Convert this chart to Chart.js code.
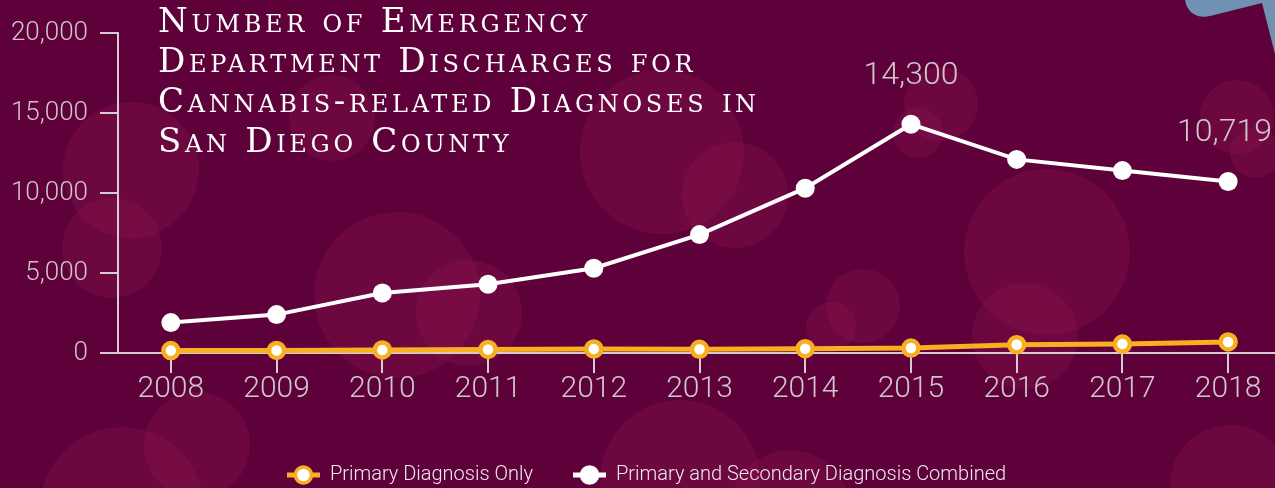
<!DOCTYPE html>
<html lang="en">
<head>
<meta charset="UTF-8">
<title>Emergency Department Discharges - Cannabis</title>
<script src="https://cdn.jsdelivr.net/npm/chart.js"></script>
<style>
  html, body { margin: 0; padding: 0; overflow: hidden; background: #5e003a; }
  #wrap { position: relative; width: 1293px; height: 488px; }
  .bokeh { position: absolute; border-radius: 50%; background: rgba(160, 33, 92, 0.21); }
  #star { position: absolute; left: 0; top: 0; }
  #chart { position: absolute; left: 0; top: 0; }
  #title {
    position: absolute; left: 158px; top: 0px;
    color: #fff; font-family: "DejaVu Serif", serif; font-size: 34px;
    line-height: 40px; font-variant: small-caps; letter-spacing: 3.7px; white-space: nowrap;
  }
</style>
</head>
<body>
<div id="wrap">
  <svg id="star" width="1293" height="488"><path d="M1185,0 C1187,12 1196,19 1210,16 L1262,3 L1277,62 L1293,62 L1293,0 Z" fill="#7091b1"/></svg>
  <!-- canvas is a little wider than the window so the plot runs to the right edge -->
  <canvas id="chart" width="1293" height="488"></canvas>
  <div id="title">Number of Emergency<br>Department Discharges for<br>Cannabis-related Diagnoses in<br>San Diego County</div>
</div>
<script>
  // data
  const years = ['2008', '2009', '2010', '2011', '2012', '2013', '2014', '2015', '2016', '2017', '2018'];
  const primaryOnly = [150, 160, 190, 220, 250, 230, 270, 310, 520, 560, 690];
  const combined = [1900, 2400, 3750, 4300, 5300, 7400, 10300, 14300, 12100, 11400, 10719];
  const calloutYears = ['2015', '2018'];
  const seriesNames = ['Primary Diagnosis Only', 'Primary and Secondary Diagnosis Combined'];

  const orange = '#f8b020';
  const axisGrey = '#d4ccd0';
  const labelGrey = '#cfc6cb';

  // background bubbles (decoration only)
  const bubbles = [
    [131, 170, 68], [112, 248, 50], [332, 118, 43], [397, 295, 83], [469, 313, 53],
    [662, 152, 82], [735, 195, 53], [1047, 252, 83], [1025, 336, 53], [863, 306, 37],
    [831, 327, 25], [941, 104, 37], [918, 133, 25], [1237, 117, 37], [1255, 153, 25],
    [197, 445, 53], [122, 509, 82], [680, 480, 80], [790, 510, 60], [1230, 485, 60]
  ];
  const wrap = document.getElementById('wrap');
  bubbles.forEach(([cx, cy, r]) => {
    const d = document.createElement('div');
    d.className = 'bokeh';
    d.style.left = (cx - r) + 'px';
    d.style.top = (cy - r) + 'px';
    d.style.width = d.style.height = (2 * r) + 'px';
    wrap.insertBefore(d, wrap.firstChild);
  });

  // legend markers: line with a dot on it
  function marker(lineColor, fill, stroke) {
    const c = document.createElement('canvas');
    c.width = 33; c.height = 22;
    const g = c.getContext('2d');
    g.strokeStyle = lineColor; g.lineWidth = 5;
    g.beginPath(); g.moveTo(0, 11); g.lineTo(33, 11); g.stroke();
    g.beginPath(); g.arc(16.5, 11, 8, 0, Math.PI * 2);
    g.fillStyle = fill; g.fill();
    g.lineWidth = 3.5; g.strokeStyle = stroke; g.stroke();
    return c;
  }
  const markers = [marker(orange, '#fff', orange), marker('#fff', '#fff', '#fff')];

  // value callouts above selected points (kept inside the visible window)
  const callouts = {
    id: 'callouts',
    afterDatasetsDraw(chart) {
      const { ctx, scales: { x, y } } = chart;
      ctx.save();
      ctx.font = '300 32px Roboto';
      ctx.fillStyle = labelGrey;
      ctx.textAlign = 'center';
      ctx.textBaseline = 'middle';
      calloutYears.forEach(yr => {
        const i = years.indexOf(yr);
        const v = combined[i];
        const txt = v.toLocaleString('en-US');
        const w = ctx.measureText(txt).width;
        const px = Math.min(x.getPixelForValue(i), window.innerWidth - 3 - w / 2);
        ctx.fillText(txt, px, y.getPixelForValue(v) - 48);
      });
      ctx.restore();
    }
  };

  new Chart(document.getElementById('chart'), {
    type: 'line',
    data: {
      labels: years,
      datasets: [{
        label: seriesNames[0],
        data: primaryOnly,
        borderColor: orange,
        borderWidth: 5,
        pointRadius: 7.5,
        pointBackgroundColor: '#fff',
        pointBorderColor: orange,
        pointBorderWidth: 4.5,
        clip: false
      }, {
        label: seriesNames[1],
        data: combined,
        borderColor: '#fff',
        borderWidth: 4,
        pointRadius: 9.5,
        pointBackgroundColor: '#fff',
        pointBorderWidth: 0,
        clip: false
      }]
    },
    options: {
      responsive: false,
      animation: false,
      events: [],
      layout: { padding: { top: 33, left: 0, right: 0, bottom: 0 } },
      scales: {
        x: {
          offset: true,
          grid: { offset: false, drawOnChartArea: false, color: axisGrey, lineWidth: 2, tickLength: 20 },
          border: { color: axisGrey, width: 2 },
          ticks: { color: labelGrey, padding: 1, font: { family: 'Roboto', size: 30, weight: '300', lineHeight: 1 } },
          afterFit(scale) {
            scale.height = 72;
            scale.paddingLeft = 0;
            scale.paddingRight = 0;
          }
        },
        y: {
          min: 0, max: 20000,
          grid: { drawOnChartArea: false, color: axisGrey, lineWidth: 2, tickLength: 18 },
          border: { color: axisGrey, width: 2 },
          ticks: {
            stepSize: 5000, color: labelGrey, padding: 12,
            font: { family: 'Roboto', size: 26, weight: '300' },
            callback: v => v.toLocaleString('en-US')
          },
          afterFit(scale) { scale.width = 118; }
        }
      },
      plugins: {
        tooltip: { enabled: false },
        legend: {
          position: 'bottom',
          maxHeight: 63,
          labels: {
            color: '#f0e8ec',
            font: { family: 'Roboto', size: 20, weight: '300' },
            usePointStyle: true,
            pointStyleWidth: 33,
            boxHeight: 20,
            padding: 40,
            generateLabels(chart) {
              return Chart.defaults.plugins.legend.labels.generateLabels(chart).map((item, i) => {
                item.pointStyle = markers[i];
                return item;
              });
            }
          }
        }
      }
    },
    plugins: [callouts]
  });
</script>
</body>
</html>
